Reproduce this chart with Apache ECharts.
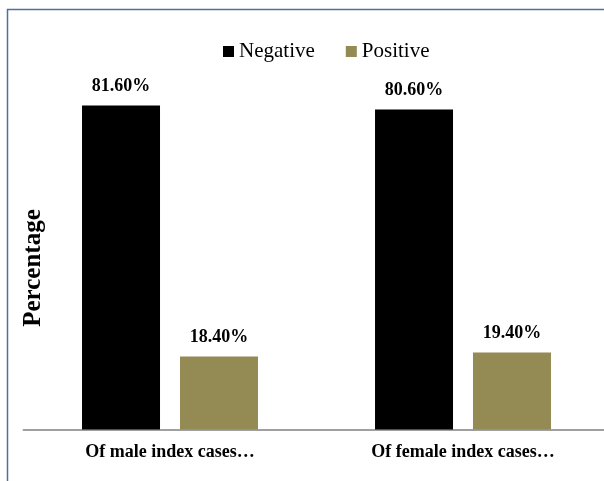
<!DOCTYPE html>
<html>
<head>
<meta charset="utf-8">
<script src="https://cdn.jsdelivr.net/npm/echarts@6/dist/echarts.min.js"></script>
<style>
  html, body { margin: 0; padding: 0; background: #fff; overflow: hidden; }
  #chart { width: 620px; height: 481px; }
</style>
</head>
<body>
<div id="chart"></div>
<script>
// Share of negative / positive results by index-case sex
const categories = ['Of male index cases…', 'Of female index cases…'];
const negativeValues = [81.6, 80.6];
const positiveValues = [18.4, 19.4];
const seriesNames = ['Negative', 'Positive'];
const axisTitle = 'Percentage';

const serif = '"Liberation Serif", "Times New Roman", serif';

const valueLabel = {
  show: true,
  position: 'top',
  distance: 10,
  fontFamily: serif,
  fontWeight: 'bold',
  fontSize: 18,
  color: '#000',
  formatter: p => p.value.toFixed(2) + '%'
};

const chart = echarts.init(document.getElementById('chart'));
chart.setOption({
  backgroundColor: '#fff',
  animation: false,
  legend: {
    left: 218,
    top: 36,
    icon: 'rect',
    itemWidth: 11,
    itemHeight: 11,
    itemGap: 31,
    textStyle: { fontFamily: serif, fontSize: 21, color: '#000' },
    data: seriesNames
  },
  grid: { left: 23.5, top: 32.5, width: 586, height: 397 },
  xAxis: {
    type: 'category',
    data: categories,
    axisLine: { lineStyle: { color: '#a0a0a0', width: 2 } },
    axisTick: { show: false },
    axisLabel: {
      margin: 14,
      fontFamily: serif,
      fontWeight: 'bold',
      fontSize: 18,
      color: '#000'
    }
  },
  yAxis: {
    type: 'value',
    min: 0,
    max: 100,
    show: false
  },
  graphic: [
    {
      type: 'polyline',
      shape: { points: [[7.5, 490], [7.5, 9.5], [640, 9.5]] },
      style: { stroke: '#4f6f9f', lineWidth: 1.5, fill: null }
    },
    {
      type: 'text',
      x: 34,
      y: 268,
      rotation: Math.PI / 2,
      style: {
        text: axisTitle,
        fontFamily: serif,
        fontWeight: 'bold',
        fontSize: 25,
        fill: '#000',
        align: 'center',
        verticalAlign: 'middle'
      }
    }
  ],
  series: [
    {
      name: seriesNames[0],
      type: 'bar',
      data: negativeValues,
      barWidth: 78,
      barGap: '25.6%',
      itemStyle: { color: '#000000' },
      label: valueLabel
    },
    {
      name: seriesNames[1],
      type: 'bar',
      data: positiveValues,
      barWidth: 78,
      itemStyle: { color: '#948a54' },
      label: valueLabel
    }
  ]
});
</script>
</body>
</html>
